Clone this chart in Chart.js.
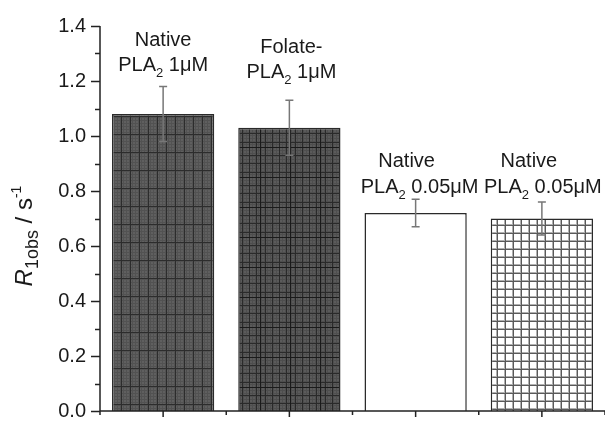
<!DOCTYPE html>
<html>
<head>
<meta charset="utf-8">
<script src="https://cdn.jsdelivr.net/npm/chart.js@4.4.1/dist/chart.umd.min.js"></script>
<style>
  body { margin: 0; background: #fff; }
  canvas { display: block; }
</style>
</head>
<body>
<canvas id="barChart" width="605" height="437"></canvas>
<script>
// data
var categories = ['Native PLA2 1μM', 'Folate-PLA2 1μM', 'Native PLA2 0.05μM', 'Native PLA2 0.05μM'];
var values = [1.08, 1.03, 0.72, 0.70];
var errors = [0.10, 0.10, 0.05, 0.06];
var yTicks = [0, 0.2, 0.4, 0.6, 0.8, 1.0, 1.2, 1.4];
// two-line labels above the bars: [first line, prefix, subscript, suffix]
var barLabels = [
  ['Native', 'PLA', '2', ' 1\u03bcM'],
  ['Folate-', 'PLA', '2', ' 1\u03bcM'],
  ['Native', 'PLA', '2', ' 0.05\u03bcM'],
  ['Native', 'PLA', '2', ' 0.05\u03bcM']
];

var FONT = '"Liberation Sans", Arial, sans-serif';

function makePattern(size, draw) {
  var c = document.createElement('canvas');
  c.width = size; c.height = size;
  var g = c.getContext('2d');
  draw(g, size);
  return document.getElementById('barChart').getContext('2d').createPattern(c, 'repeat');
}

// dense dark grid
var pat1 = makePattern(18, function(g, s) {
  g.fillStyle = '#5f5f5f'; g.fillRect(0, 0, s, s);
  g.fillStyle = '#525252';
  for (var i = 0; i < s; i += 3) { g.fillRect(i, 0, 1, s); g.fillRect(0, i, s, 1); }
  g.fillStyle = '#2c2c2c';
  g.fillRect(4, 0, 1, s); g.fillRect(13, 0, 1, s);
  g.fillRect(0, 8, s, 1);
});
// dark grid with irregular heavier lines
var pat2 = makePattern(30, function(g, s) {
  g.fillStyle = '#5a5a5a'; g.fillRect(0, 0, s, s);
  g.fillStyle = '#4e4e4e';
  for (var i = 0; i < s; i += 3) { g.fillRect(i, 0, 1, s); g.fillRect(0, i, s, 1); }
  g.fillStyle = '#2a2a2a';
  [2, 9, 16, 25].forEach(function(p) { g.fillRect(p, 0, 1, s); });
  [5, 13, 22].forEach(function(p) { g.fillRect(0, p, s, 1); });
  g.fillStyle = '#1a1a1a';
  g.fillRect(20, 0, 1, s);
  g.fillRect(0, 27, s, 1);
});
var pat3 = '#ffffff';
// open square grid
var pat4 = makePattern(8, function(g, s) {
  g.fillStyle = '#ffffff'; g.fillRect(0, 0, s, s);
  g.fillStyle = '#b0b0b0';
  g.fillRect(0, 0, 2, s); g.fillRect(0, 0, s, 2);
  g.fillStyle = '#5a5a5a';
  g.fillRect(1, 0, 1, s); g.fillRect(0, 1, s, 1);
});

function drawRich(ctx, parts, cx, y, align) {
  // parts: [text, font, dy]
  var total = 0;
  parts.forEach(function(p) { ctx.font = p[1]; p.w = ctx.measureText(p[0]).width; total += p.w; });
  var x = align === 'center' ? cx - total / 2 : cx;
  ctx.textAlign = 'left';
  parts.forEach(function(p) {
    ctx.font = p[1];
    ctx.fillText(p[0], x, y + p[2]);
    x += p.w;
  });
}

var extras = {
  id: 'extras',
  afterDatasetsDraw: function(chart) {
    var ctx = chart.ctx;
    var xs = chart.scales.x, ys = chart.scales.y;
    var area = chart.chartArea;
    var meta = chart.getDatasetMeta(0);
    ctx.save();

    // error bars
    ctx.strokeStyle = '#777';
    ctx.lineWidth = 1.5;
    meta.data.forEach(function(bar, i) {
      var top = ys.getPixelForValue(values[i] + errors[i]);
      var bot = ys.getPixelForValue(values[i] - errors[i]);
      ctx.beginPath();
      ctx.moveTo(bar.x, top); ctx.lineTo(bar.x, bot);
      ctx.moveTo(bar.x - 4, top); ctx.lineTo(bar.x + 4, top);
      ctx.moveTo(bar.x - 4, bot); ctx.lineTo(bar.x + 4, bot);
      ctx.stroke();
    });

    // axes
    ctx.strokeStyle = '#222';
    ctx.lineWidth = 1.5;
    ctx.beginPath();
    ctx.moveTo(area.left, area.top); ctx.lineTo(area.left, area.bottom);
    ctx.moveTo(area.left, area.bottom); ctx.lineTo(area.right, area.bottom);
    for (var v = 0; v <= 1.4001; v += 0.1) {
      var py = Math.round(ys.getPixelForValue(v)) + 0.5;
      var major = Math.round(v * 10) % 2 === 0;
      ctx.moveTo(area.left, py); ctx.lineTo(area.left - (major ? 9 : 5), py);
    }
    for (var k = 0; k <= categories.length; k++) {
      var bx = xs.getPixelForValue(k - 0.5);
      ctx.moveTo(bx, area.bottom); ctx.lineTo(bx, area.bottom + 4);
      if (k < categories.length) {
        var cx = xs.getPixelForValue(k);
        ctx.moveTo(cx, area.bottom); ctx.lineTo(cx, area.bottom + 6);
      }
    }
    ctx.stroke();

    // labels above bars
    ctx.fillStyle = '#1a1a1a';
    ctx.textBaseline = 'alphabetic';
    var lineY = [[46, 71], [53, 78], [167, 193], [167, 193]];
    var dx = [[0, 0], [2, 2], [-9, 4], [-13, 1]];
    meta.data.forEach(function(bar, i) {
      var l = barLabels[i];
      drawRich(ctx, [[l[0], '20px ' + FONT, 0]], bar.x + dx[i][0], lineY[i][0], 'center');
      drawRich(ctx, [
        [l[1], '20px ' + FONT, 0],
        [l[2], '13px ' + FONT, 6],
        [l[3], '20px ' + FONT, 0]
      ], bar.x + dx[i][1], lineY[i][1], 'center');
    });

    // y axis title
    ctx.translate(32, 236);
    ctx.rotate(-Math.PI / 2);
    drawRich(ctx, [
      ['R', 'italic 24px ' + FONT, 0],
      ['1obs', '18px ' + FONT, 6],
      [' / s', '24px ' + FONT, 0],
      ['-1', '14px ' + FONT, -11]
    ], 0, 0, 'center');

    ctx.restore();
  }
};

var ctx = document.getElementById('barChart').getContext('2d');
var myChart = new Chart(ctx, {
  type: 'bar',
  data: {
    labels: categories,
    datasets: [{
      data: values,
      backgroundColor: [pat1, pat2, pat3, pat4],
      borderColor: '#2a2a2a',
      borderWidth: 1.5,
      barPercentage: 0.81,
      categoryPercentage: 1.0
    }]
  },
  options: {
    responsive: false,
    devicePixelRatio: 1,
    animation: false,
    layout: { padding: { top: 24, right: 0, bottom: 0, left: 0 } },
    plugins: { legend: { display: false }, tooltip: { enabled: false } },
    scales: {
      x: {
        offset: true,
        grid: { display: false, drawTicks: false },
        border: { display: false },
        ticks: { display: false },
        afterFit: function(scale) { scale.height = 5; }
      },
      y: {
        min: 0,
        max: 1.4,
        grid: { display: false, drawTicks: false },
        border: { display: false },
        afterBuildTicks: function(scale) {
          scale.ticks = yTicks.map(function(v) { return { value: v }; });
        },
        ticks: {
          padding: 14,
          color: '#1a1a1a',
          font: { family: FONT, size: 20 },
          callback: function(v) { return Number(v).toFixed(1); }
        },
        afterFit: function(scale) { scale.width = 100; }
      }
    }
  },
  plugins: [extras]
});
</script>
</body>
</html>
